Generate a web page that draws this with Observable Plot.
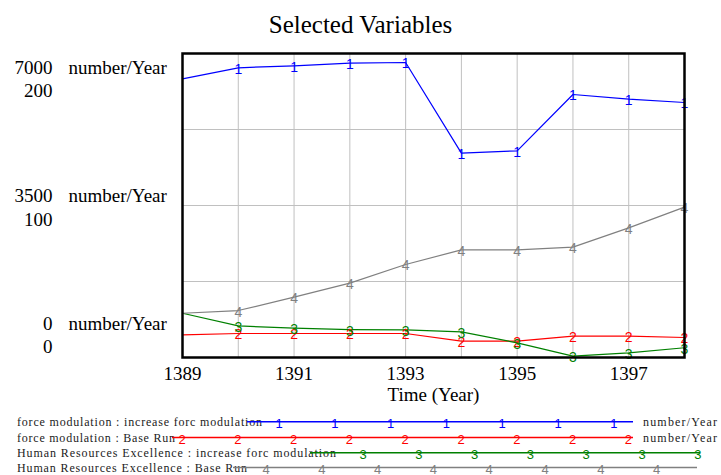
<!DOCTYPE html>
<html><head><meta charset="utf-8">
<script src="https://cdn.jsdelivr.net/npm/d3@7"></script>
<script src="https://cdn.jsdelivr.net/npm/@observablehq/plot@0.6"></script>
<style>
body{margin:0;background:#fff;}
#wrap{position:relative;width:721px;height:475px;overflow:hidden;}
#chart{position:absolute;left:0;top:0;}
#overlay{position:absolute;left:0;top:0;pointer-events:none;}
</style></head>
<body><div id="wrap"><div id="chart"></div></div>
<script>
// ---- data ----
const years = [1389, 1390, 1391, 1392, 1393, 1394, 1395, 1396, 1397, 1398];
const forceIncrease = [6417, 6671, 6717, 6777, 6793, 4705, 4759, 6056, 5948, 5872];
const forceBase = [522, 553, 553, 553, 553, 376, 376, 491, 491, 461];
const hrIncrease = [29.1, 20.8, 19.3, 18.4, 18.2, 16.9, 9.6, 0.9, 3.1, 6.4];
const hrBase = [29.1, 30.9, 39.7, 48.9, 61.2, 70.8, 70.8, 72.6, 85.3, 98.9];
const seriesNames = [
  "force modulation : increase forc modulation",
  "force modulation : Base Run",
  "Human Resources Excellence : increase forc modulation",
  "Human Resources Excellence : Base Run"
];
const seriesUnits = ["number/Year", "number/Year", "", ""];
const markers = ["1", "2", "3", "4"];
const axis1Ticks = [0, 3500, 7000];
const axis2Ticks = [0, 100, 200];
const xTicks = [1389, 1391, 1393, 1395, 1397];
const title = "Selected Variables";
const xLabel = "Time (Year)";
const unitLabel = "number/Year";

// ---- build ----
const colors = ["#0000ff", "#ff0000", "#008000", "#808080"];
const max1 = 7000, max2 = 200;
const seriesValues = [forceIncrease, forceBase, hrIncrease, hrBase];
const seriesAxis = [1, 1, 2, 2];
const data = [];
seriesValues.forEach((vals, s) => {
  vals.forEach((v, i) => data.push({
    series: seriesNames[s], marker: markers[s], year: years[i],
    y: seriesAxis[s] === 1 ? v : v * max1 / max2
  }));
});
const toY1 = v => v * max1 / max2;

const serif = "Liberation Serif, Times New Roman, serif";
const sans = "Liberation Sans, Arial, sans-serif";

const labelDy1 = [-34, -10, 14];   // layout offsets for first label line
const labelDy2 = [-11, 14, 37];    // layout offsets for second label line

const marks = [
  Plot.ruleX(years, {x: d => d, stroke: "#c0c0c0", strokeWidth: 1}),
  Plot.ruleY([1750, 3500, 5250], {y: d => d, stroke: "#c0c0c0", strokeWidth: 1}),
  Plot.line(data, {x: "year", y: "y", z: "series", stroke: "series", strokeWidth: 1.2}),
  Plot.text(data.filter(d => d.year > years[0]), {
    x: "year", y: "y", text: "marker", fill: "series",
    fontFamily: sans, fontSize: 14, dy: 1.5
  }),
  Plot.frame({stroke: "black", strokeWidth: 2.5}),
  Plot.axisX({ticks: xTicks, tickSize: 0, tickPadding: 9, fontSize: 19, fontFamily: serif, tickFormat: d => String(d), fill: "black", label: null}),
  Plot.text([xLabel], {text: d => d, frameAnchor: "bottom", dy: 43, fontSize: 19, fontFamily: serif, fill: "black"}),
];
axis1Ticks.forEach((v, i) => {
  marks.push(Plot.text([v], {y: d => d, text: d => String(d), frameAnchor: "left", dx: -130, dy: labelDy1[i], textAnchor: "end", fontSize: 19, fontFamily: serif, fill: "black"}));
  marks.push(Plot.text([v], {y: d => d, text: () => unitLabel, frameAnchor: "left", dx: -114, dy: labelDy1[i], textAnchor: "start", fontSize: 19, fontFamily: serif, fill: "black"}));
});
axis2Ticks.forEach((v, i) => {
  marks.push(Plot.text([v], {y: d => toY1(d), text: d => String(d), frameAnchor: "left", dx: -130, dy: labelDy2[i], textAnchor: "end", fontSize: 19, fontFamily: serif, fill: "black"}));
});

const chart = Plot.plot({
  width: 721, height: 410,
  marginLeft: 182, marginRight: 37, marginTop: 53, marginBottom: 53,
  x: {domain: [years[0], years[years.length - 1]], axis: null},
  y: {domain: [0, max1], axis: null},
  color: {domain: seriesNames, range: colors},
  style: {fontFamily: serif, background: "white", overflow: "visible"},
  marks
});
document.getElementById("chart").appendChild(chart);

// ---- overlay: title + legend ----
const svg = d3.select("#wrap").append("svg").attr("id", "overlay")
  .attr("width", 721).attr("height", 475);
svg.append("text").attr("x", 360.5).attr("y", 33).attr("text-anchor", "middle")
  .attr("font-family", serif).attr("font-size", 25).attr("fill", "black").text(title);

const legendLayout = [
  {lineY: 421.7, textW: 245, x0: 247, x1: 633, m0: 279},
  {lineY: 437.5, textW: 158, x0: 172, x1: 633, m0: 182},
  {lineY: 452.7, textW: 319, x0: 310, x1: 700, m0: 363},
  {lineY: 467.5, textW: 230, x0: 233, x1: 697, m0: 266},
];
const step = 55.8;
seriesNames.forEach((name, i) => {
  const L = legendLayout[i];
  svg.append("text").attr("x", 17).attr("y", L.lineY + 4)
    .attr("font-family", serif).attr("font-size", 12).attr("fill", "#222")
    .attr("textLength", L.textW).attr("lengthAdjust", "spacing").text(name);
  svg.append("line").attr("x1", L.x0).attr("x2", L.x1).attr("y1", L.lineY).attr("y2", L.lineY)
    .attr("stroke", colors[i]).attr("stroke-width", 1.4);
  for (let mx = L.m0; mx <= L.x1 + 1; mx += step) {
    svg.append("text").attr("x", mx).attr("y", L.lineY + 1.5).attr("text-anchor", "middle")
      .attr("dominant-baseline", "central").attr("font-family", sans).attr("font-size", 13)
      .attr("fill", colors[i]).text(markers[i]);
  }
  if (seriesUnits[i]) {
    svg.append("text").attr("x", 643).attr("y", L.lineY + 4)
      .attr("font-family", serif).attr("font-size", 12).attr("fill", "#222")
      .attr("textLength", 74).attr("lengthAdjust", "spacing").text(seriesUnits[i]);
  }
});
</script></body></html>
